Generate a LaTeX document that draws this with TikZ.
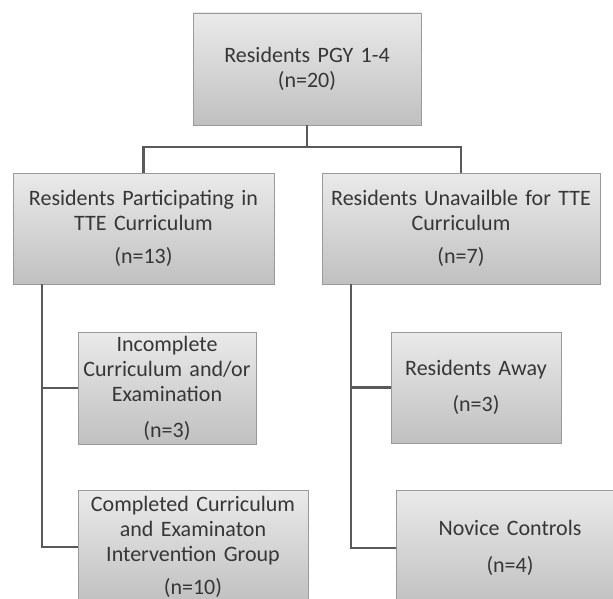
\documentclass[tikz,border=0pt]{standalone}
\usepackage{fontspec}
\setmainfont{Carlito}
\usetikzlibrary{shadows}
\definecolor{txt}{HTML}{363636}
\definecolor{edge}{HTML}{9A9A9A}
\definecolor{topc}{HTML}{EAEAEA}
\definecolor{botc}{HTML}{C0C0C0}
\definecolor{wire}{HTML}{5A5A5A}
\tikzset{
  box/.style={draw=edge, line width=0.9pt, top color=topc, bottom color=botc,
    rectangle, inner sep=0pt, align=center, text=txt,
    font=\fontsize{22}{25}\selectfont,
    drop shadow={shadow xshift=1.2pt, shadow yshift=-1.2pt, opacity=0.35, fill=black!60}},
  wireline/.style={draw=wire, line width=2.5pt}
}
\begin{document}
\begin{tikzpicture}[x=1pt,y=-1pt]
\path[use as bounding box] (0,0) rectangle (613,599);
\clip (0,0) rectangle (613,599);
\node[box, minimum width=228pt, minimum height=112pt, text width=224pt] (top) at (307,69)
  {Residents PGY 1-4\\(n=20)};
\node[box, minimum width=261pt, minimum height=111pt, text width=258pt] (left) at (143.5,228.5)
  {Residents Participating in\\TTE Curriculum\\[8pt](n=13)};
\node[box, minimum width=278pt, minimum height=111pt, text width=276pt] (right) at (461,228.5)
  {Residents Unavailble for TTE\\Curriculum\\[8pt](n=7)};
\node[box, minimum width=178pt, minimum height=112pt, text width=176pt] (inc) at (167,388)
  {Incomplete\\Curriculum and/or\\Examination\\[11pt](n=3)};
\node[box, minimum width=230pt, minimum height=114pt, text width=228pt] (comp) at (193,547)
  {Completed Curriculum\\and Examinaton\\Intervention Group\\[8pt](n=10)};
\node[box, minimum width=170pt, minimum height=111pt, text width=168pt] (away) at (476,387.5)
  {Residents Away\\[11pt](n=3)};
\node[box, minimum width=228pt, minimum height=116pt, text width=224pt] (nov) at (510,548)
  {Novice Controls\\[12pt](n=4)};
\coordinate (hb) at (307,147);
\coordinate (lt) at (42,284);
\coordinate (rt) at (351,284);
\draw[wireline] (top.south) -- (hb);
\draw[wireline] (left.north) |- (hb) -| (right.north);
\draw[wireline] (lt) |- (inc.west);
\draw[wireline] (lt) |- (comp.west);
\draw[wireline] (rt) |- (away.west);
\draw[wireline] (rt) |- (nov.west);
\end{tikzpicture}
\end{document}
